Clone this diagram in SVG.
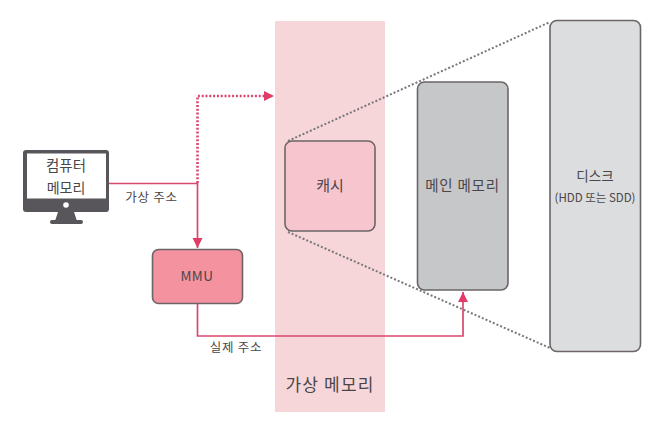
<svg xmlns="http://www.w3.org/2000/svg" width="653" height="440" viewBox="0 0 653 440">
<style>
text{font-family:"Noto Sans CJK KR","Liberation Sans",sans-serif;fill:#4a4648;text-anchor:middle;font-weight:400}
.box{stroke:#6b6567;stroke-width:1.6}
.link{fill:none;stroke:#d9486e;stroke-width:1.7}
.dots{fill:none;stroke:#77777a;stroke-width:2;stroke-dasharray:2 2}
</style>
<defs>
<marker id="arrow" markerUnits="userSpaceOnUse" markerWidth="12" markerHeight="12" refX="10" refY="5" orient="auto"><path d="M0 0L10 5L0 10Z" fill="#e03c68"/></marker>
</defs>
<rect width="653" height="440" fill="#fff"/>
<g id="virtual-memory">
<rect x="275" y="21" width="110" height="391" fill="#f7d6da"/>
<text x="330" y="391" font-size="17" letter-spacing="1.200">가상 메모리</text>
</g>
<g id="connectors">
<path class="dots" d="M288 141L550 22"/>
<path class="dots" d="M288 232L550 348"/>
<path class="link" d="M109 183.500H197.500V248" marker-end="url(#arrow)"/>
<path d="M197.500 183V96H274" fill="none" stroke="#d9486e" stroke-width="2.600" stroke-dasharray="2 1.800" marker-end="url(#arrow)"/>
<path class="link" d="M197.500 303V336H463V292" marker-end="url(#arrow)"/>
</g>
<g id="computer-memory">
<rect x="23" y="150" width="86" height="62" rx="3" fill="#58565a"/>
<rect x="27" y="153.500" width="79" height="45" fill="#fff"/>
<circle cx="66" cy="205" r="2.800" fill="#fff"/>
<path d="M58 212H74L77 221H55Z" fill="#58565a"/>
<rect x="50" y="220" width="33" height="4" rx="2" fill="#58565a"/>
<text x="66" y="171" font-size="14.500">컴퓨터</text>
<text x="66" y="193" font-size="14">메모리</text>
</g>
<g id="mmu">
<rect class="box" x="152.500" y="249.500" width="90" height="54" rx="6" fill="#f4929f"/>
<text x="197" y="281" font-size="13.500" letter-spacing="0.500">MMU</text>
</g>
<g id="cache">
<rect class="box" x="285" y="141" width="90" height="90" rx="7" fill="#f7c5cd"/>
<text x="330" y="191" font-size="15">캐시</text>
</g>
<g id="main-memory">
<rect class="box" x="417.500" y="82" width="90.500" height="208" rx="7" fill="#c5c7c9"/>
<text x="462.500" y="191" font-size="14.500" letter-spacing="0.800">메인 메모리</text>
</g>
<g id="disk">
<rect class="box" x="550" y="20.500" width="90.500" height="331" rx="7" fill="#dcddde"/>
<text x="595" y="181" font-size="13.500">디스크</text>
<text x="595" y="202" font-size="11.500">(HDD 또는 SDD)</text>
</g>
<g id="labels">
<text x="151.500" y="202" font-size="12.500" letter-spacing="0.700">가상 주소</text>
<text x="236" y="352" font-size="12.500" letter-spacing="0.700">실제 주소</text>
</g>
</svg>
